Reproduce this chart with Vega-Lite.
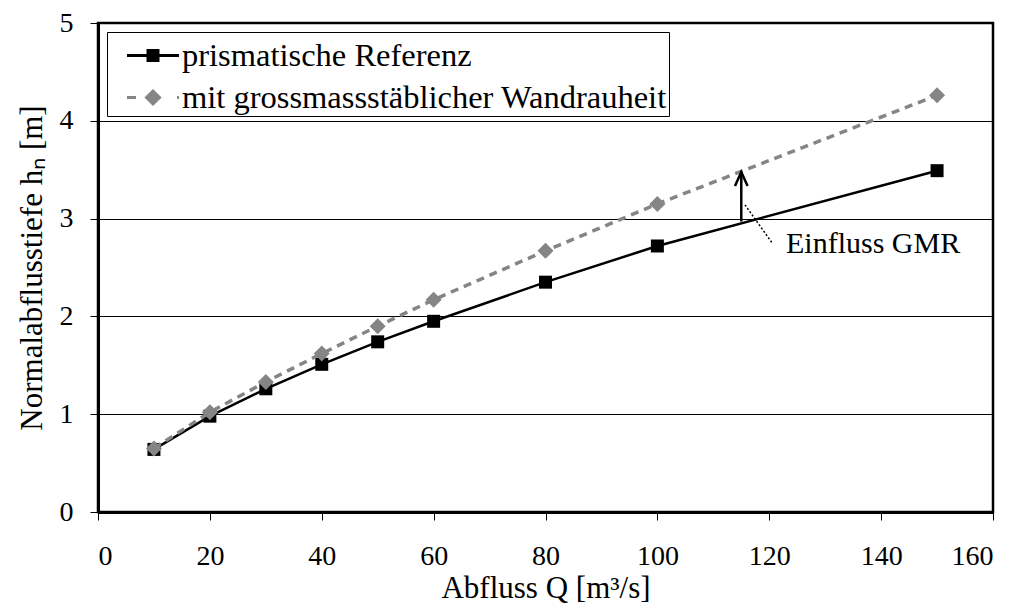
{
  "$schema": "https://vega.github.io/schema/vega-lite/v6.json",
  "width": 895,
  "height": 489,
  "autosize": {"type": "none"},
  "padding": {"left": 98, "top": 23, "right": 30, "bottom": 95},
  "background": "white",
  "config": {
    "font": "Liberation Serif",
    "view": {"stroke": "black", "strokeWidth": 2.5},
    "axis": {
      "labelFont": "Liberation Serif",
      "labelFontSize": 28,
      "labelColor": "black",
      "titleFont": "Liberation Serif",
      "titleFontSize": 31,
      "titleFontWeight": "normal",
      "titleColor": "black",
      "domainColor": "black",
      "domainWidth": 3,
      "tickColor": "black",
      "tickWidth": 1,
      "tickSize": 8,
      "gridColor": "black",
      "gridWidth": 1,
      "gridOpacity": 1
    }
  },
  "datasets": {
    "main": [
      {"Q": 10, "h": 0.64, "series": "prismatische Referenz"},
      {"Q": 20, "h": 0.98, "series": "prismatische Referenz"},
      {"Q": 30, "h": 1.26, "series": "prismatische Referenz"},
      {"Q": 40, "h": 1.51, "series": "prismatische Referenz"},
      {"Q": 50, "h": 1.74, "series": "prismatische Referenz"},
      {"Q": 60, "h": 1.95, "series": "prismatische Referenz"},
      {"Q": 80, "h": 2.35, "series": "prismatische Referenz"},
      {"Q": 100, "h": 2.72, "series": "prismatische Referenz"},
      {"Q": 150, "h": 3.49, "series": "prismatische Referenz"},
      {"Q": 10, "h": 0.65, "series": "mit grossmassstäblicher Wandrauheit"},
      {"Q": 20, "h": 1.02, "series": "mit grossmassstäblicher Wandrauheit"},
      {"Q": 30, "h": 1.33, "series": "mit grossmassstäblicher Wandrauheit"},
      {"Q": 40, "h": 1.62, "series": "mit grossmassstäblicher Wandrauheit"},
      {"Q": 50, "h": 1.90, "series": "mit grossmassstäblicher Wandrauheit"},
      {"Q": 60, "h": 2.17, "series": "mit grossmassstäblicher Wandrauheit"},
      {"Q": 80, "h": 2.67, "series": "mit grossmassstäblicher Wandrauheit"},
      {"Q": 100, "h": 3.15, "series": "mit grossmassstäblicher Wandrauheit"},
      {"Q": 150, "h": 4.26, "series": "mit grossmassstäblicher Wandrauheit"}
    ]
  },
  "encoding": {
    "x": {
      "field": "Q", "type": "quantitative",
      "scale": {"domain": [0, 160], "nice": false, "zero": false},
      "axis": {"values": [0, 20, 40, 60, 80, 100, 120, 140, 160], "grid": false, "labelPadding": 22, "title": "Abfluss Q [m³/s]", "titlePadding": 3}
    },
    "y": {
      "field": "h", "type": "quantitative",
      "scale": {"domain": [0, 5], "nice": false},
      "axis": {"values": [0, 1, 2, 3, 4, 5], "grid": true, "labelPadding": 17, "title": "Normalabflusstiefe hₙ [m]", "titlePadding": 11}
    }
  },
  "layer": [
    {
      "data": {"name": "main"},
      "transform": [{"filter": "datum.series === 'prismatische Referenz'"}],
      "mark": {"type": "line", "color": "black", "strokeWidth": 2.5}
    },
    {
      "data": {"name": "main"},
      "transform": [{"filter": "datum.series === 'prismatische Referenz'"}],
      "mark": {"type": "point", "shape": "square", "filled": true, "color": "black", "size": 169, "opacity": 1}
    },
    {
      "data": {"name": "main"},
      "transform": [{"filter": "datum.series !== 'prismatische Referenz'"}],
      "mark": {"type": "line", "color": "#858585", "strokeWidth": 3.5, "strokeDash": [8, 6]}
    },
    {
      "data": {"name": "main"},
      "transform": [{"filter": "datum.series !== 'prismatische Referenz'"}],
      "mark": {"type": "point", "shape": "diamond", "filled": true, "color": "#858585", "size": 256, "opacity": 1}
    },
    {
      "data": {"values": [{"x": 115, "y": 2.97, "y2": 3.47}]},
      "mark": {"type": "rule", "color": "black", "strokeWidth": 2.5},
      "encoding": {"x": {"field": "x", "type": "quantitative"}, "y": {"field": "y", "type": "quantitative"}, "y2": {"field": "y2"}}
    },
    {
      "data": {"values": [{"x": 115, "y": 3.405}]},
      "mark": {"type": "point", "shape": "M-0.45,0.5L0,-0.5L0.45,0.5", "filled": false, "stroke": "black", "strokeWidth": 2.5, "size": 784, "opacity": 1},
      "encoding": {"x": {"field": "x", "type": "quantitative"}, "y": {"field": "y", "type": "quantitative"}}
    },
    {
      "data": {"values": [{"x": 115.66, "y": 3.14, "x2": 120.66, "y2": 2.74}]},
      "mark": {"type": "rule", "color": "black", "strokeWidth": 1.5, "strokeDash": [2, 2]},
      "encoding": {"x": {"field": "x", "type": "quantitative"}, "y": {"field": "y", "type": "quantitative"}, "x2": {"field": "x2"}, "y2": {"field": "y2"}}
    },
    {
      "data": {"values": [{"x": 123.0, "y": 2.648, "label": "Einfluss GMR"}]},
      "mark": {"type": "text", "font": "Liberation Serif", "fontSize": 30, "align": "left", "baseline": "alphabetic", "color": "black"},
      "encoding": {"x": {"field": "x", "type": "quantitative"}, "y": {"field": "y", "type": "quantitative"}, "text": {"field": "label"}}
    },
    {
      "data": {"name": "main"},
      "transform": [{"filter": "datum.Q < 0"}],
      "mark": {"type": "point", "filled": true, "strokeWidth": 3, "size": 1600, "opacity": 1},
      "encoding": {
        "shape": {
          "field": "series", "type": "nominal",
          "scale": {"domain": ["prismatische Referenz", "mit grossmassstäblicher Wandrauheit"], "range": ["M-0.175,0H2.425M0.875,-0.25H1.375V0.25H0.875Z", "M-0.175,0H0.275M2.325,0H2.425M0.8,0L1.125,-0.325L1.45,0L1.125,0.325Z"]},
          "legend": {
            "title": null, "orient": "top-left", "offset": 9,
            "labelFont": "Liberation Serif", "labelFontSize": 32.5, "labelColor": "black", "labelLimit": 700,
            "strokeColor": "black", "fillColor": "white", "padding": 2,
            "symbolSize": 1600, "symbolStrokeWidth": 3, "symbolOpacity": 1, "labelOffset": 30, "rowPadding": 4
          }
        },
        "fill": {"field": "series", "type": "nominal", "scale": {"domain": ["prismatische Referenz", "mit grossmassstäblicher Wandrauheit"], "range": ["black", "#858585"]}},
        "stroke": {"field": "series", "type": "nominal", "scale": {"domain": ["prismatische Referenz", "mit grossmassstäblicher Wandrauheit"], "range": ["black", "#858585"]}}
      }
    }
  ]
}
